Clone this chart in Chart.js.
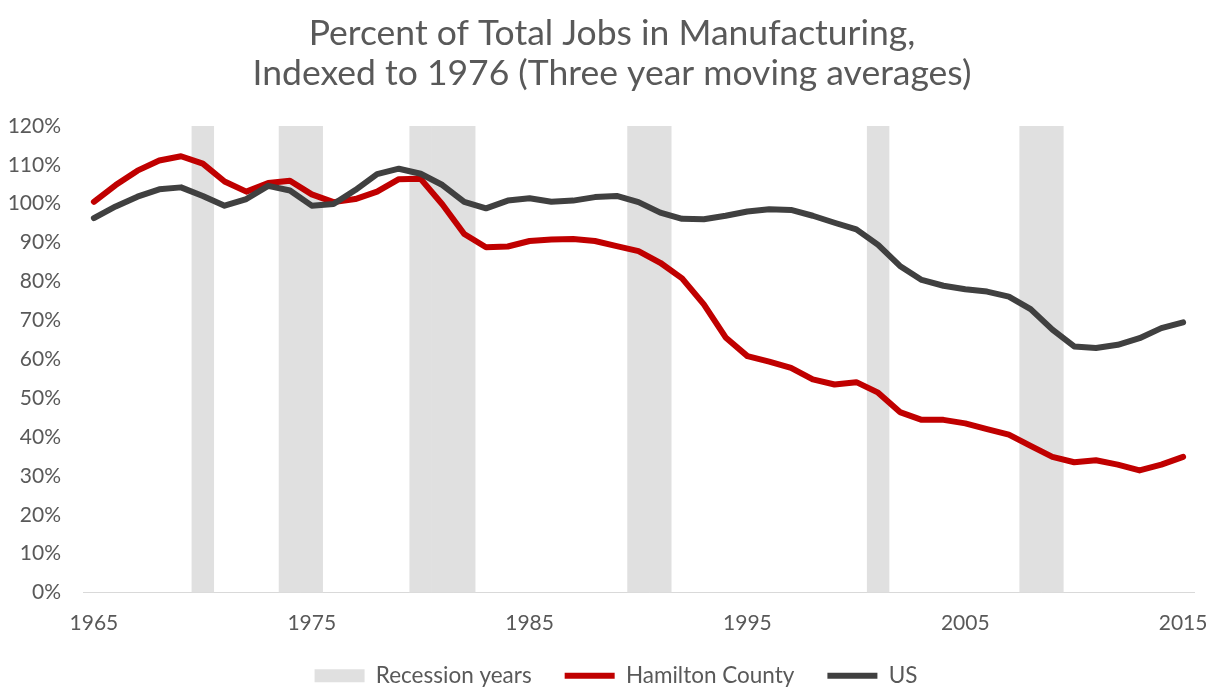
<!DOCTYPE html>
<html>
<head>
<meta charset="utf-8">
<script src="https://cdn.jsdelivr.net/npm/chart.js@4.4.1/dist/chart.umd.min.js"></script>
<style>
  html, body { margin: 0; padding: 0; background: #fff; }
  #wrap { width: 1215px; height: 692px; }
</style>
</head>
<body>
<div id="wrap"><canvas id="myChart"></canvas></div>
<script>
const years = []
for (let y = 1965; y <= 2015; y++) years.push(y)

const recessionYears = [1970, 1974, 1975, 1980, 1981, 1982, 1990, 1991, 2001, 2008, 2009]

const hamilton = [
  100.5, 104.8, 108.5, 111.1, 112.2, 110.3, 105.7, 103.1, 105.3, 105.9,
  102.4, 100.4, 101.2, 103.1, 106.3, 106.4, 99.8, 92.2, 88.8, 89.0,
  90.4, 90.8, 90.9, 90.4, 89.1, 87.8, 84.8, 80.8, 74.1, 65.6,
  60.8, 59.4, 57.8, 54.8, 53.5, 54.1, 51.4, 46.4, 44.4, 44.4,
  43.5, 42.0, 40.6, 37.7, 34.9, 33.5, 34.0, 32.9, 31.4, 32.9, 34.9
]

const us = [
  96.3, 99.3, 101.8, 103.7, 104.2, 102.0, 99.5, 101.2, 104.6, 103.4,
  99.5, 99.9, 103.5, 107.6, 109.0, 107.7, 104.8, 100.5, 98.8, 100.8,
  101.4, 100.5, 100.8, 101.7, 102.0, 100.4, 97.7, 96.1, 96.0, 96.9,
  98.0, 98.6, 98.4, 96.9, 95.1, 93.4, 89.4, 84.0, 80.4, 78.9,
  78.0, 77.4, 76.1, 72.9, 67.6, 63.3, 62.9, 63.7, 65.4, 68.0, 69.5
]

const recessionBars = years.map(y => recessionYears.includes(y) ? 120 : null)

const textColor = '#595959'
const fontName = 'Lato'

// nudge title and legend right so they sit centred like the original
const shiftBlocks = {
  id: 'shiftBlocks',
  afterLayout(chart) {
    chart.titleBlock.left += 11
    chart.titleBlock.right += 11
    chart.legend.left += 15
    chart.legend.right += 15
  }
}

var ctx = document.getElementById('myChart').getContext('2d')
var myChart = new Chart(ctx, {
  type: 'bar',
  data: {
    labels: years,
    datasets: [{
      type: 'bar',
      label: 'Recession years',
      data: recessionBars,
      backgroundColor: '#E0E0E0',
      borderWidth: 0,
      barPercentage: 1,
      categoryPercentage: 1,
      pointStyle: 'rect',
      order: 3
    }, {
      type: 'line',
      label: 'Hamilton County',
      data: hamilton,
      borderColor: '#C00000',
      backgroundColor: '#C00000',
      borderWidth: 6,
      borderCapStyle: 'round',
      borderJoinStyle: 'round',
      pointRadius: 0,
      pointStyle: 'line',
      tension: 0,
      order: 2
    }, {
      type: 'line',
      label: 'US',
      data: us,
      borderColor: '#404040',
      backgroundColor: '#404040',
      borderWidth: 6,
      borderCapStyle: 'round',
      borderJoinStyle: 'round',
      pointRadius: 0,
      pointStyle: 'line',
      tension: 0,
      order: 1
    }]
  },
  options: {
    responsive: true,
    maintainAspectRatio: false,
    animation: false,
    layout: {
      padding: { left: 8, right: 21, top: 0, bottom: -5 }
    },
    scales: {
      x: {
        offset: true,
        grid: { display: false, drawTicks: false },
        border: { display: true, color: '#D9D9D9', width: 1 },
        ticks: {
          autoSkip: false,
          maxRotation: 0,
          padding: 0,
          color: textColor,
          font: { family: fontName, size: 21, lineHeight: 2.9 },
          callback: function (value, index) {
            const y = years[index]
            return (y - 1965) % 10 === 0 ? String(y) : ''
          }
        },
        afterFit: function (scale) { scale.height = 39 }
      },
      y: {
        min: 0,
        max: 120,
        grid: { display: false, drawTicks: false },
        border: { display: false },
        ticks: {
          stepSize: 10,
          padding: 22,
          color: textColor,
          font: { family: fontName, size: 21 },
          callback: v => v + '%'
        },
        afterFit: function (scale) { scale.width = 75 }
      }
    },
    plugins: {
      title: {
        display: true,
        text: ['Percent of Total Jobs in Manufacturing,', 'Indexed to 1976 (Three year moving averages)'],
        color: textColor,
        font: { family: fontName, size: 35.5, weight: 'normal', lineHeight: 1.14 },
        padding: { top: 13, bottom: 32 }
      },
      legend: {
        position: 'bottom',
        labels: {
          usePointStyle: true,
          pointStyleWidth: 50,
          boxHeight: 13,
          padding: 33,
          color: textColor,
          font: { family: fontName, size: 22.5 },
          sort: (a, b) => a.datasetIndex - b.datasetIndex
        }
      },
      tooltip: { enabled: false }
    }
  },
  plugins: [shiftBlocks]
})
</script>
</body>
</html>
